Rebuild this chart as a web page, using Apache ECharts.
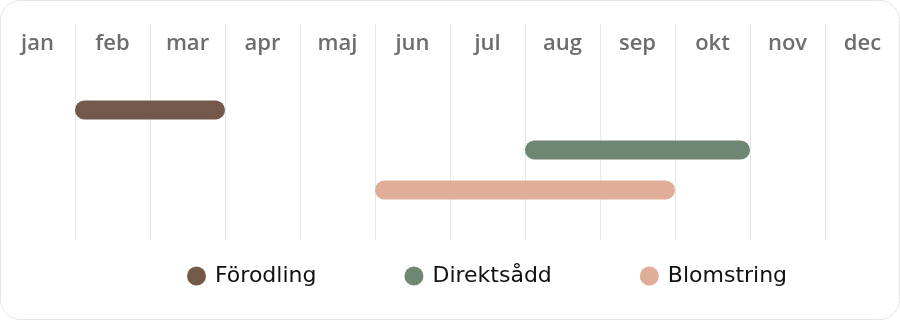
<!DOCTYPE html>
<html><head><meta charset="utf-8">
<script src="https://cdn.jsdelivr.net/npm/echarts@6/dist/echarts.min.js"></script>
<style>html,body{margin:0;padding:0;background:#fff}#c{width:900px;height:320px}</style>
</head><body><div id="c"></div>
<script>
var months = ['jan','feb','mar','apr','maj','jun','jul','aug','sep','okt','nov','dec'];
var seriesNames = ['Förodling','Direktsådd','Blomstring'];
var seriesColors = ['#74584b','#6e8674','#e0ad98'];
// [row, startMonth (0-based, inclusive start), endMonth (exclusive end)]
var forodling = [[1, 1, 3]];
var direktsadd = [[2, 7, 10]];
var blomstring = [[3, 5, 9]];
var seriesData = [forodling, direktsadd, blomstring];

var chart = echarts.init(document.getElementById('c'), null, {renderer:'canvas'});
function renderItem(params, api){
  var row = api.value(0);
  var p0 = api.coord([api.value(1), row]);
  var p1 = api.coord([api.value(2), row]);
  var h = 19;
  return {type:'rect', shape:{x:p0[0], y:p0[1]-h/2, width:p1[0]-p0[0], height:h, r:h/2}, style:{fill:api.visual('color')}};
}
var series = seriesNames.map(function(n,i){
  return {type:'custom', name:n, xAxisIndex:1, yAxisIndex:0, renderItem:renderItem, itemStyle:{color:seriesColors[i]}, encode:{x:[1,2], y:0}, data:seriesData[i]};
});
chart.setOption({
  animation:false,
  textStyle:{fontFamily:'Open Sans'},
  graphic:[{type:'rect', z:-1, shape:{x:0.5,y:0.5,width:899,height:319,r:20}, style:{fill:'none', stroke:'#e4e4e4', lineWidth:1}}],
  grid:{left:0, right:0, top:24, height:216},
  xAxis:[
    {type:'category', data:months, position:'top', boundaryGap:true,
     axisLine:{show:false}, axisTick:{show:false},
     axisLabel:{inside:true, margin:9, color:'#6b6e6b', fontSize:22, fontWeight:600, fontFamily:'Open Sans', verticalAlign:'top'},
     splitLine:{show:true, interval:0, lineStyle:{color:'#e6e6e6', width:1}}},
    {type:'value', min:0, max:12, show:false}
  ],
  yAxis:[{type:'value', min:-1.15, max:4.25, inverse:true, show:false}],
  legend:{bottom:28, left:182, icon:'circle', itemWidth:19, itemHeight:19, itemGap:88,
    textStyle:{fontSize:22, color:'#111', fontFamily:'DejaVu Sans', padding:[0,0,0,4]},
    data:seriesNames},
  series:series
});
</script></body></html>
